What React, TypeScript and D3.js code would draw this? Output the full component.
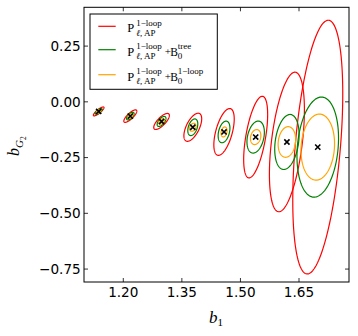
import React from 'react';
import { scaleLinear, line, range, curveLinearClosed } from 'd3';

const width = 358;
const height = 336;
const margin = { top: 7.3, right: 9, bottom: 54, left: 84 };

// fiducial values (marker positions)
const b1 = [1.137, 1.218, 1.298, 1.378, 1.458, 1.539, 1.619, 1.698];
const bG2 = [-0.043, -0.064, -0.088, -0.114, -0.135, -0.158, -0.18, -0.203];

// half extents of each contour along b1 / bG2 and correlation
const redSx = [0.0136, 0.0166, 0.02, 0.0228, 0.0261, 0.0307, 0.0448, 0.064];
const redSy = [0.02, 0.028, 0.036, 0.063, 0.105, 0.183, 0.313, 0.569];
const redRho = [0.85, 0.8, 0.75, 0.6, 0.55, 0.55, 0.46, 0.42];

const greenSx = [0.009, 0.0097, 0.0113, 0.0128, 0.0151, 0.0223, 0.0312, 0.0532];
const greenSy = [0.0126, 0.017, 0.0224, 0.0373, 0.0485, 0.0718, 0.1234, 0.2244];
const greenRho = [0.7, 0.65, 0.6, 0.4, 0.35, 0.3, 0.26, 0.18];

const orangeSx = [0.0059, 0.0064, 0.0072, 0.0082, 0.0077, 0.0133, 0.0225, 0.043];
const orangeSy = [0.0081, 0.0099, 0.0126, 0.018, 0.0224, 0.0337, 0.0687, 0.148];
const orangeRho = [0.5, 0.5, 0.45, 0.3, 0.25, 0.2, 0.15, 0.1];

const xTicks = [1.2, 1.35, 1.5, 1.65];
const yTicks = [0.25, 0, -0.25, -0.5, -0.75];

const series = [
  { color: '#ff0000', sx: redSx, sy: redSy, rho: redRho },
  { color: '#008000', sx: greenSx, sy: greenSy, rho: greenRho },
  { color: '#ffa500', sx: orangeSx, sy: orangeSy, rho: orangeRho },
];

const x = scaleLinear().domain([1.0994, 1.778]).range([margin.left, width - margin.right]);
const y = scaleLinear().domain([0.424, -0.808]).range([margin.top, height - margin.bottom]);

const fmt = (v: number) => (v < 0 ? '\u2212' : '') + Math.abs(v).toFixed(2);

const ellipsePath = (cx: number, cy: number, sx: number, sy: number, rho: number) => {
  const pts = range(0, 2 * Math.PI, Math.PI / 90).map(t => [
    cx + sx * Math.cos(t),
    cy + sy * (rho * Math.cos(t) + Math.sqrt(1 - rho * rho) * Math.sin(t)),
  ]);
  return line<number[]>()
    .x(d => x(d[0]))
    .y(d => y(d[1]))
    .curve(curveLinearClosed)(pts);
};

const serif = '"Liberation Serif", "DejaVu Serif", serif';
const sans = '"DejaVu Sans", sans-serif';

const LegendLabel = ({ yb, sup, extra }: { yb: number; sup?: string; extra: boolean }) => (
  <g fontFamily={serif} fill="#000">
    <text x={127.3} y={yb} fontSize={12.5}>P</text>
    <text x={136.3} y={yb - 6.5} fontSize={9}>1−loop</text>
    <text x={136.3} y={yb + 3.5} fontSize={9}>
      <tspan fontStyle="italic">ℓ</tspan>, AP
    </text>
    {extra && (
      <>
        <text x={164.8} y={yb - 0.5} fontSize={11}>+</text>
        <text x={170.3} y={yb} fontSize={11.5}>B</text>
        <text x={177.8} y={yb - 6.5} fontSize={9}>{sup}</text>
        <text x={177.8} y={yb + 3.5} fontSize={9}>0</text>
      </>
    )}
  </g>
);

const App = () => {
  const x0 = margin.left;
  const x1 = width - margin.right;
  const y0 = margin.top;
  const y1 = height - margin.bottom;
  const tl = 4;

  return (
    <svg width={width} height={height} style={{ position: 'absolute', left: 0, top: 0, background: '#fff' }}>
      <rect x={0} y={0} width={width} height={height} fill="#fff" />
      <defs>
        <clipPath id="plot">
          <rect x={x0} y={y0} width={x1 - x0} height={y1 - y0} />
        </clipPath>
      </defs>

      <g clipPath="url(#plot)">
        {series.map(s =>
          b1.map((b, i) => (
            <path
              key={s.color + i}
              d={ellipsePath(b, bG2[i], s.sx[i], s.sy[i], s.rho[i]) || ''}
              fill="none"
              stroke={s.color}
              strokeWidth={1.2}
            />
          ))
        )}
        {b1.map((b, i) => {
          const px = x(b);
          const py = y(bG2[i]);
          const r = 2.6;
          return (
            <path
              key={'m' + i}
              d={`M${px - r},${py - r}L${px + r},${py + r}M${px - r},${py + r}L${px + r},${py - r}`}
              stroke="#000"
              strokeWidth={1.6}
            />
          );
        })}
      </g>

      {/* ticks */}
      {xTicks.map(t => (
        <g key={'x' + t}>
          <line x1={x(t)} x2={x(t)} y1={y1} y2={y1 - tl} stroke="#000" strokeWidth={0.8} />
          <line x1={x(t)} x2={x(t)} y1={y0} y2={y0 + tl} stroke="#000" strokeWidth={0.8} />
          <text x={x(t)} y={296.7} fontSize={13.6} fontFamily={sans} textAnchor="middle">
            {t.toFixed(2)}
          </text>
        </g>
      ))}
      {yTicks.map(t => (
        <g key={'y' + t}>
          <line x1={x0} x2={x0 + tl} y1={y(t)} y2={y(t)} stroke="#000" strokeWidth={0.8} />
          <line x1={x1} x2={x1 - tl} y1={y(t)} y2={y(t)} stroke="#000" strokeWidth={0.8} />
          <text x={80.7} y={y(t)} dy="0.36em" fontSize={13.6} fontFamily={sans} textAnchor="end">
            {fmt(t)}
          </text>
        </g>
      ))}

      <rect x={x0} y={y0} width={x1 - x0} height={y1 - y0} fill="none" stroke="#000" strokeWidth={1} />

      {/* legend */}
      <rect x={90} y={14} width={127.3} height={75.3} fill="#fff" stroke="#000" strokeWidth={1} />
      <line x1={98.3} x2={115.7} y1={26.3} y2={26.3} stroke="#ff0000" strokeWidth={1.2} />
      <line x1={98.3} x2={115.7} y1={49.7} y2={49.7} stroke="#008000" strokeWidth={1.2} />
      <line x1={98.3} x2={115.7} y1={74.7} y2={74.7} stroke="#ffa500" strokeWidth={1.2} />
      <LegendLabel yb={32} extra={false} />
      <LegendLabel yb={55.5} sup="tree" extra={true} />
      <LegendLabel yb={80.5} sup="1−loop" extra={true} />

      {/* axis labels */}
      <text x={209} y={323} fontFamily={serif} fontStyle="italic" fontSize={17}>
        b<tspan fontStyle="normal" fontSize={11} dy={3}>1</tspan>
      </text>
      <g transform="translate(18.5,156) rotate(-90)">
        <text x={0} y={0} fontFamily={serif} fontStyle="italic" fontSize={16}>
          b
          <tspan fontSize={11} dy={4}>G</tspan>
          <tspan fontStyle="normal" fontSize={7.5} dy={3}>2</tspan>
        </text>
      </g>
    </svg>
  );
};

export default App;
